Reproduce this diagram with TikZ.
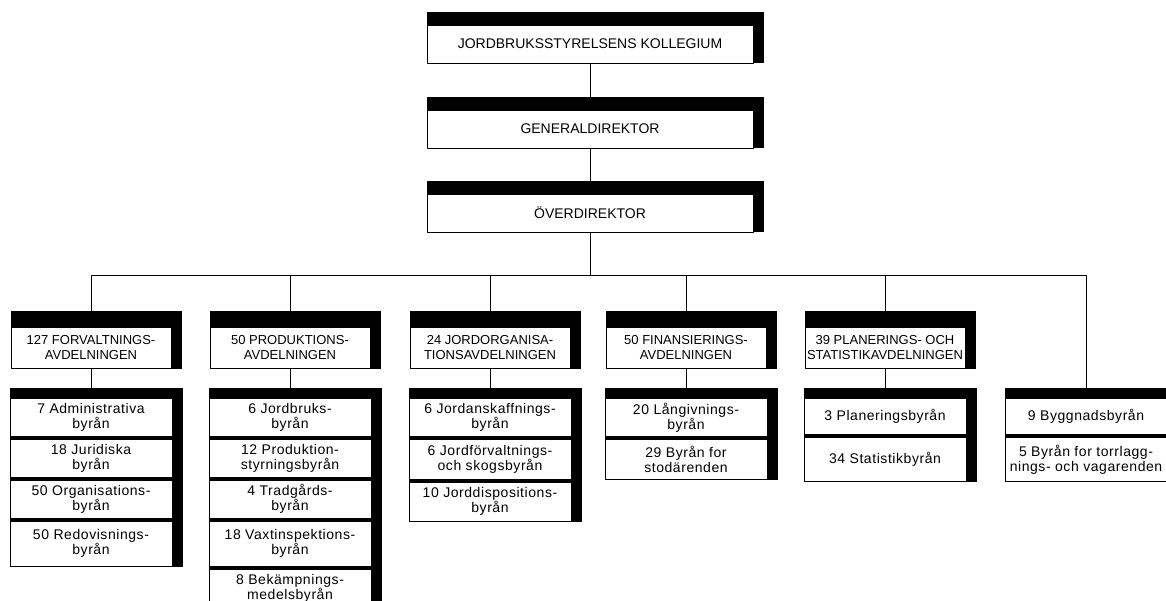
\documentclass[tikz,border=0pt]{standalone}
\usepackage{fontspec}
\setmainfont[LetterSpace=4]{Liberation Sans}
\newfontfamily\capsfont{Liberation Sans}
\usetikzlibrary{positioning,backgrounds}
\begin{document}
\begin{tikzpicture}[x=1pt,y=-1pt, line width=0.9pt, line join=round, line cap=round,
  font=\fontsize{14}{15}\selectfont, node distance=2pt,
  chef/.style={draw, fill=white, minimum width=326pt, minimum height=38pt, inner sep=1pt,
    font=\capsfont\fontsize{14}{15}\selectfont},
  avd/.style={draw, fill=white, minimum width=160pt, minimum height=41pt, inner sep=1pt,
    align=center, font=\capsfont\fontsize{13}{15}\selectfont},
  byra/.style={draw, fill=white, minimum width=162pt, minimum height=38pt, inner sep=1pt, align=center}]
\useasboundingbox (0,0) rectangle (1166,601);
% ledningen
\node[chef] (kol) at (590,44) {JORDBRUKSSTYRELSENS KOLLEGIUM};
\node[chef] (gen) at (590,129) {GENERALDIREKTOR};
\node[chef] (over) at (590,213) {ÖVERDIREKTOR};
% avdelningar
\node[avd] (fo) at (91,348) {127 FORVALTNINGS-\\AVDELNINGEN};
\node[avd] (pr) at (290,348) {50 PRODUKTIONS-\\AVDELNINGEN};
\node[avd] (jo) at (490,348) {24 JORDORGANISA-\\TIONSAVDELNINGEN};
\node[avd] (fi) at (686,348) {50 FINANSIERINGS-\\AVDELNINGEN};
\node[avd] (pl) at (885,348) {39 PLANERINGS- OCH\\STATISTIKAVDELNINGEN};
% byråer
\node[byra, anchor=north] (adm) at (91,398) {7 Administrativa\\byrån};
\node[byra, below=of adm] (jur) {18 Juridiska\\byrån};
\node[byra, below=of jur] (org) {50 Organisations-\\byrån};
\node[byra, below=of org, minimum height=45pt] (red) {50 Redovisnings-\\byrån};
\node[byra, anchor=north] (jbb) at (290,398) {6 Jordbruks-\\byrån};
\node[byra, below=of jbb] (prs) {12 Produktion-\\styrningsbyrån};
\node[byra, below=of prs] (tra) {4 Tradgårds-\\byrån};
\node[byra, below=of tra, minimum height=45pt] (vax) {18 Vaxtinspektions-\\byrån};
\node[byra, below=of vax, minimum height=38pt] (bek) {8 Bekämpnings-\\medelsbyrån};
\node[byra, anchor=north] (jan) at (490,398) {6 Jordanskaffnings-\\byrån};
\node[byra, below=of jan, minimum height=40pt] (jfs) {6 Jordförvaltnings-\\och skogsbyrån};
\node[byra, below=of jfs, minimum height=39pt] (jdi) {10 Jorddispositions-\\byrån};
\node[byra, anchor=north] (lan) at (686,398) {20 Långivnings-\\byrån};
\node[byra, below=of lan, minimum height=40pt] (stod) {29 Byrån for\\stodärenden};
\node[byra, anchor=north, minimum height=36pt] (plb) at (885,398) {3 Planeringsbyrån};
\node[byra, below=of plb, minimum height=44pt] (stat) {34 Statistikbyrån};
\node[byra, anchor=north, minimum height=36pt] (bygg) at (1086,398) {9 Byggnadsbyrån};
\node[byra, below=of bygg, minimum height=44pt] (torr) {5 Byrån for torrlagg-\\nings- och vagarenden};
% svarta kanter
\begin{scope}[on background layer]
\foreach \n in {kol,gen,over} \fill (\n.south west) rectangle ([shift={(11pt,13pt)}]\n.north east);
\foreach \n in {fo,pr,jo,fi,pl} \fill (\n.south west) rectangle ([shift={(11pt,16pt)}]\n.north east);
\foreach \a/\b in {adm/red,jbb/bek,jan/jdi,lan/stod,plb/stat,bygg/torr}
  \fill (\b.south west) rectangle ([shift={(11pt,10pt)}]\a.north east);
\end{scope}
% linjer
\coordinate (bus) at (590,275);
\draw (kol) -- (gen);
\draw (gen) -- (over);
\draw (over) -- (bus);
\foreach \n in {fo,pr,jo,fi,pl,bygg} \draw (\n.north) |- (bus);
\foreach \a/\b in {fo/adm,pr/jbb,jo/jan,fi/lan,pl/plb} \draw (\a) -- (\b);
\end{tikzpicture}
\end{document}
